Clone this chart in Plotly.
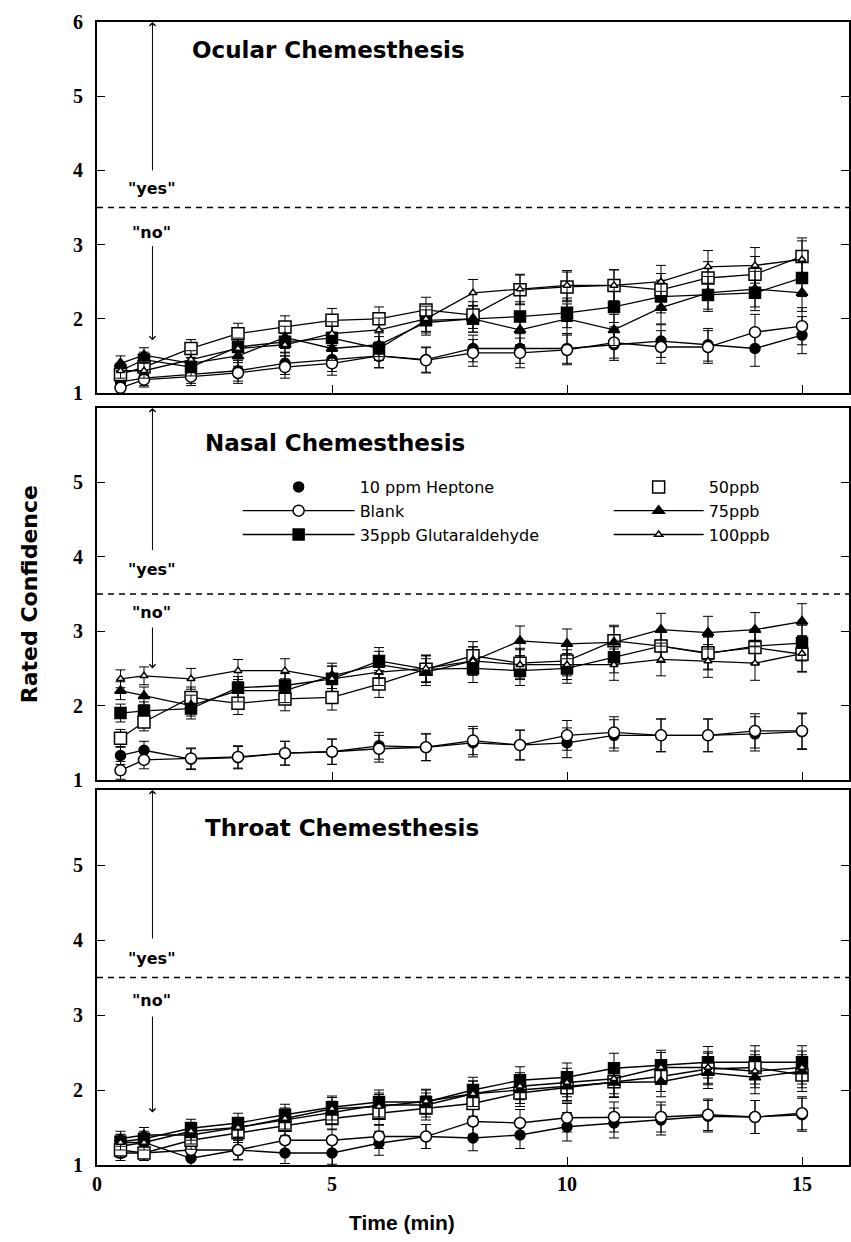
import plotly.graph_objects as go

# ---------------- data ----------------
time = [0.5, 1, 2, 3, 4, 5, 6, 7, 8, 9, 10, 11, 12, 13, 14, 15]
series_names = ["10 ppm Heptone", "Blank", "35ppb Glutaraldehyde", "50ppb", "75ppb", "100ppb"]
panel_titles = ["Ocular Chemesthesis", "Nasal Chemesthesis", "Throat Chemesthesis"]
x_tick_vals = [0, 5, 10, 15]
y_tick_vals_top = [1, 2, 3, 4, 5, 6]
y_tick_vals = [1, 2, 3, 4, 5]
threshold = 3.5

# Ocular
ocular_heptone = [1.15, 1.20, 1.25, 1.30, 1.40, 1.45, 1.50, 1.45, 1.60, 1.60, 1.60, 1.65, 1.70, 1.65, 1.60, 1.78]
ocular_blank   = [1.07, 1.18, 1.22, 1.27, 1.35, 1.40, 1.50, 1.44, 1.54, 1.54, 1.58, 1.68, 1.62, 1.62, 1.82, 1.90]
ocular_35      = [1.30, 1.45, 1.35, 1.62, 1.69, 1.74, 1.60, 1.98, 2.00, 2.03, 2.08, 2.16, 2.30, 2.32, 2.35, 2.55]
ocular_50      = [1.25, 1.35, 1.60, 1.80, 1.89, 1.98, 2.00, 2.12, 2.05, 2.39, 2.43, 2.45, 2.39, 2.55, 2.60, 2.84]
ocular_75      = [1.40, 1.51, 1.40, 1.50, 1.75, 1.60, 1.65, 1.95, 2.00, 1.85, 2.00, 1.85, 2.15, 2.35, 2.40, 2.35]
ocular_100     = [1.30, 1.30, 1.45, 1.60, 1.65, 1.80, 1.85, 2.00, 2.35, 2.40, 2.45, 2.45, 2.50, 2.70, 2.72, 2.80]
ocular_sem     = [0.10, 0.10, 0.12, 0.14, 0.15, 0.16, 0.16, 0.17, 0.18, 0.20, 0.20, 0.21, 0.22, 0.22, 0.24, 0.25]

# Nasal
nasal_heptone = [1.33, 1.40, 1.28, 1.30, 1.36, 1.38, 1.46, 1.44, 1.50, 1.47, 1.50, 1.60, 1.60, 1.60, 1.62, 1.65]
nasal_blank   = [1.13, 1.27, 1.29, 1.31, 1.36, 1.38, 1.42, 1.44, 1.53, 1.47, 1.60, 1.64, 1.60, 1.60, 1.66, 1.66]
nasal_35      = [1.90, 1.93, 1.96, 2.24, 2.27, 2.36, 2.60, 2.49, 2.50, 2.47, 2.50, 2.65, 2.80, 2.70, 2.80, 2.84]
nasal_50      = [1.56, 1.78, 2.11, 2.03, 2.09, 2.11, 2.29, 2.49, 2.67, 2.57, 2.60, 2.87, 2.80, 2.71, 2.78, 2.69]
nasal_75      = [2.20, 2.13, 2.00, 2.20, 2.20, 2.40, 2.55, 2.45, 2.60, 2.87, 2.83, 2.85, 3.02, 2.98, 3.02, 3.13]
nasal_100     = [2.36, 2.40, 2.36, 2.47, 2.47, 2.36, 2.45, 2.50, 2.60, 2.55, 2.55, 2.55, 2.62, 2.60, 2.57, 2.70]
nasal_sem     = [0.12, 0.12, 0.14, 0.15, 0.16, 0.17, 0.18, 0.18, 0.19, 0.20, 0.20, 0.21, 0.22, 0.22, 0.23, 0.24]

# Throat
throat_heptone = [1.25, 1.30, 1.09, 1.20, 1.16, 1.16, 1.29, 1.38, 1.36, 1.40, 1.51, 1.56, 1.60, 1.65, 1.64, 1.67]
throat_blank   = [1.16, 1.16, 1.20, 1.20, 1.33, 1.33, 1.38, 1.38, 1.58, 1.56, 1.63, 1.64, 1.64, 1.67, 1.64, 1.69]
throat_35      = [1.31, 1.35, 1.49, 1.56, 1.67, 1.77, 1.84, 1.84, 2.00, 2.13, 2.17, 2.29, 2.33, 2.37, 2.37, 2.37]
throat_50      = [1.20, 1.16, 1.33, 1.43, 1.53, 1.62, 1.69, 1.76, 1.82, 1.96, 2.03, 2.11, 2.18, 2.28, 2.30, 2.20]
throat_75      = [1.35, 1.40, 1.40, 1.50, 1.60, 1.70, 1.80, 1.80, 1.95, 2.00, 2.05, 2.10, 2.11, 2.23, 2.17, 2.25]
throat_100     = [1.30, 1.30, 1.45, 1.50, 1.62, 1.75, 1.78, 1.85, 1.95, 2.05, 2.10, 2.15, 2.30, 2.30, 2.25, 2.30]
throat_sem     = [0.10, 0.10, 0.12, 0.13, 0.14, 0.15, 0.16, 0.16, 0.17, 0.18, 0.19, 0.20, 0.20, 0.21, 0.22, 0.22]

panels = [
    ([ocular_heptone, ocular_blank, ocular_35, ocular_50, ocular_75, ocular_100], ocular_sem),
    ([nasal_heptone, nasal_blank, nasal_35, nasal_50, nasal_75, nasal_100], nasal_sem),
    ([throat_heptone, throat_blank, throat_35, throat_50, throat_75, throat_100], throat_sem),
]

# ---------------- styles ----------------
styles = {
    "10 ppm Heptone":       dict(symbol="circle",      color="black", size=10, legend_mode="markers"),
    "Blank":                dict(symbol="circle",      color="white", size=11, legend_mode="lines+markers"),
    "35ppb Glutaraldehyde": dict(symbol="square",      color="black", size=11, legend_mode="lines+markers"),
    "50ppb":                dict(symbol="square",      color="white", size=12, legend_mode="markers"),
    "75ppb":                dict(symbol="triangle-up", color="black", size=10, legend_mode="lines+markers"),
    "100ppb":               dict(symbol="triangle-up", color="white", size=7,  legend_mode="lines+markers"),
}

fig = go.Figure()
axis_ids = [("x", "y"), ("x2", "y2"), ("x3", "y3")]

for (series_list, sem), (xa, ya) in zip(panels, axis_ids):
    for name, vals in zip(series_names, series_list):
        st = styles[name]
        fig.add_trace(go.Scatter(
            x=time, y=vals, xaxis=xa, yaxis=ya, mode="lines+markers",
            name=name, showlegend=False,
            line=dict(color="black", width=1.3),
            marker=dict(symbol=st["symbol"], color=st["color"], size=st["size"],
                        line=dict(color="black", width=1.5)),
            error_y=dict(type="data", array=sem, visible=True, color="black",
                         thickness=1, width=5),
        ))

# legend-only entries in the nasal panel
for i, name in enumerate(series_names):
    st = styles[name]
    fig.add_trace(go.Scatter(
        x=[None], y=[None], xaxis="x2", yaxis="y2", mode=st["legend_mode"],
        name=name, showlegend=True, legend="legend" if i < 3 else "legend2",
        line=dict(color="black", width=1.3),
        marker=dict(symbol=st["symbol"], color=st["color"], size=st["size"],
                    line=dict(color="black", width=1.5)),
    ))

# ---------------- layout ----------------
W, H = 851, 1242
ML, MR, MT, MB = 97, 0, 22, 77
plot_w = W - ML - MR
plot_h = H - MT - MB

def pfrac(py):
    return (H - MB - py) / plot_h

def xfrac(px):
    return (px - ML) / plot_w

domains = [[pfrac(393), 1.0], [pfrac(780), pfrac(408)], [0.0, pfrac(790)]]

tickfont = dict(family="Liberation Serif", size=20, color="black", weight="bold")
legend_font = dict(family="DejaVu Sans", size=16, color="black")

layout = dict(
    width=W, height=H,
    margin=dict(l=ML, r=MR, t=MT, b=MB),
    paper_bgcolor="white", plot_bgcolor="white",
    showlegend=True,
    legend=dict(x=xfrac(238), y=pfrac(470), xanchor="left", yanchor="top",
                bgcolor="rgba(0,0,0,0)", font=legend_font,
                itemwidth=112, tracegroupgap=0, traceorder="normal"),
    legend2=dict(x=xfrac(610), y=pfrac(470), xanchor="left", yanchor="top",
                 bgcolor="rgba(0,0,0,0)", font=legend_font,
                 itemwidth=90, tracegroupgap=0, traceorder="normal"),
)

for i, ((xa, ya), dom) in enumerate(zip(axis_ids, domains)):
    xkey = "xaxis" if i == 0 else f"xaxis{i+1}"
    ykey = "yaxis" if i == 0 else f"yaxis{i+1}"
    layout[xkey] = dict(
        domain=[0, 1], anchor=ya, range=[0, 16], tickvals=x_tick_vals,
        showticklabels=(i == 2), ticks="inside", ticklen=8, tickwidth=1.2, tickcolor="black",
        showline=True, linecolor="black", linewidth=2, mirror=True, showgrid=False, zeroline=False,
        tickfont=tickfont,
    )
    layout[ykey] = dict(
        domain=dom, anchor=xa, range=[1, 6],
        tickvals=y_tick_vals_top if i == 0 else y_tick_vals,
        ticks="inside", ticklen=8, tickwidth=1.2, tickcolor="black",
        showline=True, linecolor="black", linewidth=2, mirror="ticks", showgrid=False, zeroline=False,
        tickfont=tickfont, ticklabelstandoff=8,
    )

fig.update_layout(**layout)

# dashed threshold lines, yes/no labels and arrows
yes_no = [
    # (yes_y, no_y, up_tail, down_tail, down_head)
    (3.76, 3.16, 3.98, 3.0, 1.71),
    (3.83, 3.25, 4.07, 3.07, 2.50),
    (3.76, 3.20, 4.00, 3.0, 1.70),
]
title_pos = [(1.97, 5.62), (2.25, 5.53), (2.25, 5.49)]
label_font = dict(family="DejaVu Sans", size=16, color="black", weight="bold")

for (xa, ya), (yy, ny, ut, dt, dh), title, (tx, ty) in zip(axis_ids, yes_no, panel_titles, title_pos):
    fig.add_shape(type="line", xref=f"{xa} domain", yref=ya, x0=0, x1=1, y0=threshold, y1=threshold,
                  line=dict(color="black", width=1.5, dash="6px,5px"))
    fig.add_annotation(xref=xa, yref=ya, x=1.15, y=yy, text='"yes"', showarrow=False, font=label_font)
    fig.add_annotation(xref=xa, yref=ya, x=1.15, y=ny, text='"no"', showarrow=False, font=label_font)
    fig.add_annotation(xref=xa, yref=ya, x=1.18, y=6.0, ax=1.18, ay=ut, axref=xa, ayref=ya,
                       text="", showarrow=True, arrowhead=4, arrowsize=1.2, arrowwidth=1, arrowcolor="black")
    fig.add_annotation(xref=xa, yref=ya, x=1.18, y=dh, ax=1.18, ay=dt, axref=xa, ayref=ya,
                       text="", showarrow=True, arrowhead=4, arrowsize=1.2, arrowwidth=1, arrowcolor="black")
    fig.add_annotation(xref=xa, yref=ya, x=tx, y=ty, text=title, showarrow=False, xanchor="left",
                       font=dict(family="DejaVu Sans", size=23, color="black", weight="bold"))

# axis titles
fig.add_annotation(xref="paper", yref="paper", x=xfrac(403), y=pfrac(1222), xanchor="center", yanchor="middle",
                   text="Time (min)", showarrow=False,
                   font=dict(family="Liberation Sans", size=21, color="black", weight="bold"))
fig.add_annotation(xref="paper", yref="paper", x=xfrac(29), y=pfrac(594), xanchor="center", yanchor="middle",
                   text="Rated Confidence", showarrow=False, textangle=-90,
                   font=dict(family="DejaVu Sans", size=22, color="black", weight="bold"))

fig.write_html("out.html", config={"displayModeBar": False},
               post_script="document.body.style.margin='0';document.body.style.padding='0';")
